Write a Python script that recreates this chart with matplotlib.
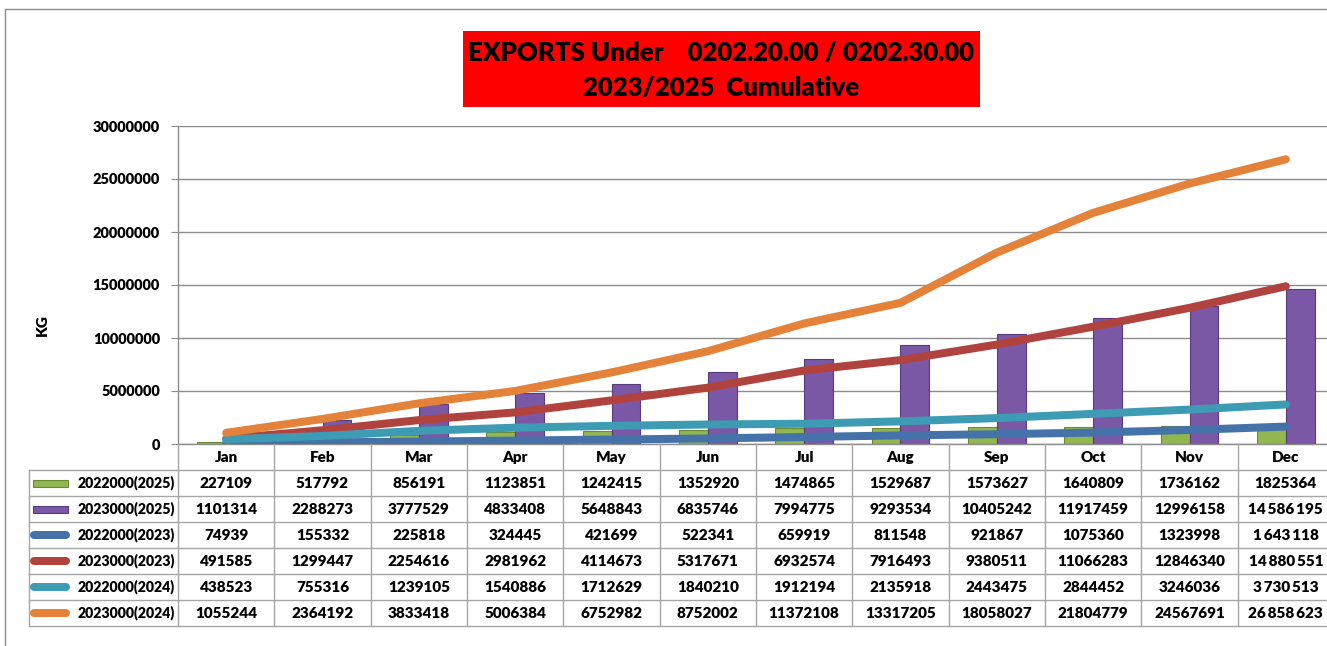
import matplotlib.pyplot as plt
import matplotlib.transforms as mtransforms
from matplotlib.lines import Line2D
from matplotlib.patches import Rectangle
import numpy as np

plt.rcParams["font.family"] = ["Lato", "DejaVu Sans"]

months = ["Jan", "Feb", "Mar", "Apr", "May", "Jun", "Jul", "Aug", "Sep", "Oct", "Nov", "Dec"]

green_2025 = [227109, 517792, 856191, 1123851, 1242415, 1352920, 1474865, 1529687,
              1573627, 1640809, 1736162, 1825364]
purple_2025 = [1101314, 2288273, 3777529, 4833408, 5648843, 6835746, 7994775, 9293534,
               10405242, 11917459, 12996158, 14586195]
blue_2023 = [74939, 155332, 225818, 324445, 421699, 522341, 659919, 811548,
             921867, 1075360, 1323998, 1643118]
red_2023 = [491585, 1299447, 2254616, 2981962, 4114673, 5317671, 6932574, 7916493,
            9380511, 11066283, 12846340, 14880551]
teal_2024 = [438523, 755316, 1239105, 1540886, 1712629, 1840210, 1912194, 2135918,
             2443475, 2844452, 3246036, 3730513]
orange_2024 = [1055244, 2364192, 3833418, 5006384, 6752982, 8752002, 11372108, 13317205,
               18058027, 21804779, 24567691, 26858623]

row_names = ["2022000(2025)", "2023000(2025)", "2022000(2023)",
             "2023000(2023)", "2022000(2024)", "2023000(2024)"]
series = [green_2025, purple_2025, blue_2023, red_2023, teal_2024, orange_2024]
kinds = ["bar", "bar", "line", "line", "line", "line"]
colors = ["#92B650", "#7A58A5", "#4672AA", "#B1433F", "#3D9BB3", "#E4823A"]
edge_colors = ["#6B8A33", "#563C7E", None, None, None, None]

W, H = 1327, 646
fig = plt.figure(figsize=(W / 100, H / 100), dpi=100)


def fx(px):
    return px / W


def fy(py):
    return 1 - py / H


ax_left, ax_right, ax_top, ax_bottom = 178, 1334, 126, 444
ax = fig.add_axes([fx(ax_left), fy(ax_bottom), fx(ax_right - ax_left), fy(ax_top) - fy(ax_bottom)])

x = np.arange(len(months))
lw_line = 8 * 72 / 100

# bars
ax.bar(x - 0.15, green_2025, width=0.3, color=colors[0], edgecolor=edge_colors[0], linewidth=0.8, zorder=2)
ax.bar(x + 0.15, purple_2025, width=0.3, color=colors[1], edgecolor=edge_colors[1], linewidth=0.8, zorder=2)

# lines
for vals, kind, col in zip(series, kinds, colors):
    if kind == "line":
        ax.plot(x, vals, color=col, linewidth=lw_line, solid_capstyle="round",
                solid_joinstyle="round", zorder=3)

ax.set_xlim(-0.5, len(months) - 0.5)
ax.set_ylim(0, 30000000)
ax.set_yticks(np.arange(0, 30000001, 5000000))
ax.set_yticklabels([f"{v:d}" for v in range(0, 30000001, 5000000)], fontsize=10.5, fontweight="heavy")
ax.yaxis.grid(True, color="#8C8C8C", linewidth=1)
ax.set_axisbelow(True)
ax.tick_params(axis="y", direction="out", length=5, color="#8C8C8C", pad=8)
ax.set_xticks([])
for s in ["top", "right"]:
    ax.spines[s].set_visible(False)
for s in ["left", "bottom"]:
    ax.spines[s].set_color("#8C8C8C")
    ax.spines[s].set_linewidth(1)

fig.text(fx(42), fy(325), "KG", rotation=90, ha="center", va="center", fontsize=11, fontweight="heavy")

# title
fig.add_artist(Rectangle((fx(463), fy(107)), fx(980 - 463), fy(31) - fy(107),
                         transform=fig.transFigure, facecolor="#FF0000", edgecolor="none"))
fig.text(fx(721), fy(53), "EXPORTS Under    0202.20.00 / 0202.30.00", ha="center", va="center",
         fontsize=18.5, fontweight="heavy", color="black")
fig.text(fx(721), fy(88), "2023/2025  Cumulative", ha="center", va="center",
         fontsize=18.5, fontweight="heavy", color="black")

# outer border
fig.add_artist(Line2D([fx(5), fx(5), 1], [0, fy(9), fy(9)], transform=fig.transFigure,
                      color="#8C8C8C", linewidth=1))

# data table
blend = mtransforms.blended_transform_factory(ax.transData, fig.transFigure)
grid_col = "#A6A6A6"
header_bottom = 470
row_h = 26
n_rows = len(series)
table_bottom = header_bottom + n_rows * row_h
legend_left = 29

for i in range(len(months) + 1):
    xb = i - 0.5
    fig.add_artist(Line2D([xb, xb], [fy(ax_bottom), fy(table_bottom)], transform=blend,
                          color=grid_col, linewidth=1))
for r in range(n_rows + 1):
    yy = header_bottom + r * row_h
    fig.add_artist(Line2D([fx(legend_left), 1], [fy(yy), fy(yy)], transform=fig.transFigure,
                          color=grid_col, linewidth=1))
fig.add_artist(Line2D([fx(legend_left), fx(legend_left)], [fy(header_bottom), fy(table_bottom)],
                      transform=fig.transFigure, color=grid_col, linewidth=1))

for i, m in enumerate(months):
    fig.text(i, fy((ax_bottom + header_bottom) / 2), m, transform=blend, ha="center", va="center",
             fontsize=11, fontweight="heavy")


def fmt(v, spaced):
    if spaced:
        return f"{v:,}".replace(",", "\u2009")
    return f"{v:d}"


for r, (name, vals, kind, col, ec) in enumerate(zip(row_names, series, kinds, colors, edge_colors)):
    yc = header_bottom + r * row_h + row_h / 2
    if kind == "bar":
        fig.add_artist(Rectangle((fx(33), fy(yc + 3.5)), fx(35), fy(yc - 3.5) - fy(yc + 3.5),
                                 transform=fig.transFigure, facecolor=col, edgecolor=ec, linewidth=0.8))
    else:
        fig.add_artist(Line2D([fx(34), fx(66)], [fy(yc), fy(yc)], transform=fig.transFigure,
                              color=col, linewidth=lw_line, solid_capstyle="round"))
    fig.text(fx(175), fy(yc), name, ha="right", va="center", fontsize=10.2, fontweight="heavy")
    for i, v in enumerate(vals):
        spaced = (i == len(months) - 1) and r > 0
        fig.text(i, fy(yc), fmt(v, spaced), transform=blend, ha="center", va="center",
                 fontsize=11, fontweight="heavy")

fig.savefig("out.png", dpi=100)
